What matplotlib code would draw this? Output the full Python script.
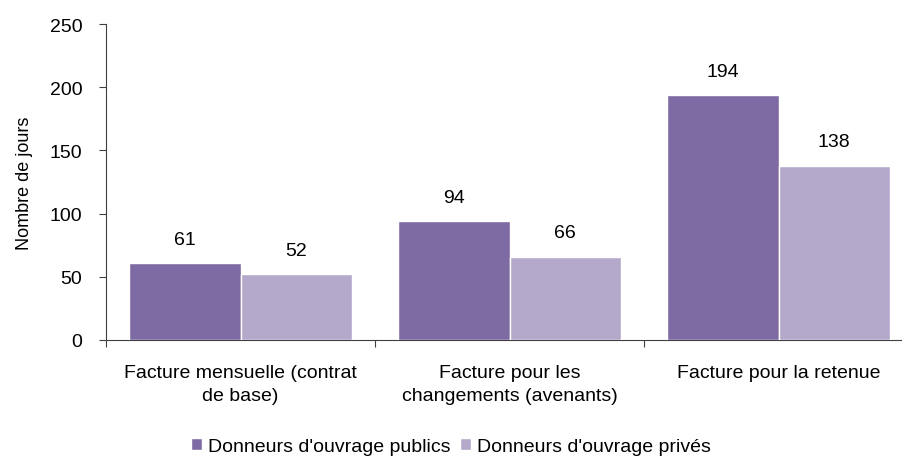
import numpy as np
import matplotlib.pyplot as plt

# data
categories = ['Facture mensuelle (contrat\nde base)',
              'Facture pour les\nchangements (avenants)',
              'Facture pour la retenue']
publics = [61, 94, 194]
prives = [52, 66, 138]
series_names = ["Donneurs d'ouvrage publics", "Donneurs d'ouvrage privés"]

plt.rcParams['font.family'] = ['Liberation Sans', 'DejaVu Sans']

dark = '#7f6ba3'
light = '#b4a9ca'

fig = plt.figure(figsize=(9.02, 4.64), dpi=100)
ax = fig.add_axes([106 / 902, 123 / 464, 807 / 902, 316 / 464])

x = np.arange(len(categories))
w = 0.413
b1 = ax.bar(x - w / 2, publics, w, color=dark, edgecolor='white', linewidth=1,
            label=series_names[0], zorder=3)
b2 = ax.bar(x + w / 2, prives, w, color=light, edgecolor='white', linewidth=1,
            label=series_names[1], zorder=3)

for bars in (b1, b2):
    for r in bars:
        ax.annotate(str(int(r.get_height())),
                    (r.get_x() + r.get_width() / 2, r.get_height()),
                    xytext=(0, 11), textcoords='offset points',
                    ha='center', va='bottom', fontsize=14)

ax.set_xlim(-0.5, 2.5)
ax.set_ylim(0, 250)
ax.set_yticks([0, 50, 100, 150, 200, 250])
ax.tick_params(axis='y', labelsize=14, length=5, color='#404040', pad=12)

# category ticks sit on the group boundaries, labels in the middle
ax.set_xticks([-0.5, 0.5, 1.5, 2.5])
ax.set_xticklabels([])
ax.set_xticks(x, minor=True)
ax.set_xticklabels(categories, minor=True, fontsize=14, linespacing=1.5)
ax.tick_params(axis='x', which='major', length=5, color='#404040')
ax.tick_params(axis='x', which='minor', length=0, pad=17)

for s in ('top', 'right'):
    ax.spines[s].set_visible(False)
for s in ('left', 'bottom'):
    ax.spines[s].set_color('#404040')

ax.set_ylabel('Nombre de jours', fontsize=13, labelpad=12)

fig.legend(loc='lower center', bbox_to_anchor=(0.5, -0.02), ncol=2, fontsize=14,
           frameon=False, handlelength=0.55, handleheight=0.55,
           handletextpad=0.3, columnspacing=0.5)

fig.savefig('out.png', dpi=100)
